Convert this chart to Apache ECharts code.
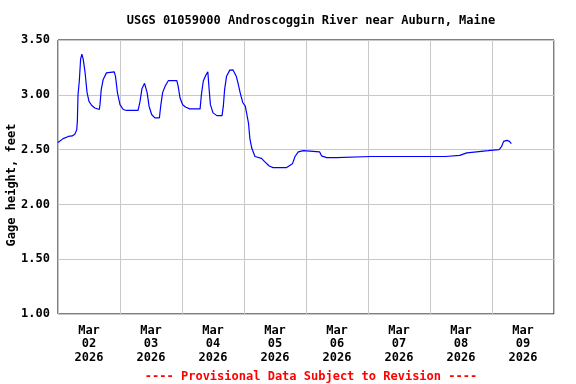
<!DOCTYPE html>
<html><head><meta charset="utf-8">
<script src="https://cdn.jsdelivr.net/npm/echarts@6/dist/echarts.min.js"></script>
<style>html,body{margin:0;padding:0;background:#fff}#c{width:576px;height:384px}</style>
</head><body><div id="c"></div>
<script>
const chartTitle = 'USGS 01059000 Androscoggin River near Auburn, Maine';
const footnote = '---- Provisional Data Subject to Revision ----';
const yAxisName = 'Gage height, feet';
const dayLabels = ['Mar\n02\n2026','Mar\n03\n2026','Mar\n04\n2026','Mar\n05\n2026','Mar\n06\n2026','Mar\n07\n2026','Mar\n08\n2026','Mar\n09\n2026'];
const xStart = '2026-03-02 00:00';
const xEnd = '2026-03-10 00:00';
const yTicks = [1.00, 1.50, 2.00, 2.50, 3.00, 3.50];
const times = [
 '2026-03-02 00:00','2026-03-02 00:45','2026-03-02 02:00','2026-03-02 04:00','2026-03-02 05:30','2026-03-02 06:30',
 '2026-03-02 07:15','2026-03-02 07:30','2026-03-02 07:45','2026-03-02 08:15','2026-03-02 08:45','2026-03-02 09:15',
 '2026-03-02 09:45','2026-03-02 10:30','2026-03-02 10:45','2026-03-02 11:15','2026-03-02 12:00','2026-03-02 13:00',
 '2026-03-02 14:15','2026-03-02 16:00','2026-03-02 16:15','2026-03-02 16:45','2026-03-02 17:30','2026-03-02 18:45',
 '2026-03-02 21:45','2026-03-02 22:15','2026-03-02 23:00','2026-03-03 00:00','2026-03-03 01:15','2026-03-03 02:30',
 '2026-03-03 07:00','2026-03-03 07:45','2026-03-03 08:30','2026-03-03 09:30','2026-03-03 10:00','2026-03-03 10:30',
 '2026-03-03 11:15','2026-03-03 12:15','2026-03-03 13:30','2026-03-03 15:15','2026-03-03 15:45','2026-03-03 16:30',
 '2026-03-03 17:30','2026-03-03 18:45','2026-03-03 22:00','2026-03-03 22:30','2026-03-03 23:15','2026-03-04 00:15',
 '2026-03-04 01:30','2026-03-04 03:00','2026-03-04 07:00','2026-03-04 07:30','2026-03-04 08:15','2026-03-04 09:15',
 '2026-03-04 10:00','2026-03-04 10:30','2026-03-04 11:00','2026-03-04 12:00','2026-03-04 13:30','2026-03-04 15:30',
 '2026-03-04 16:00','2026-03-04 16:30','2026-03-04 17:15','2026-03-04 18:30','2026-03-04 19:45','2026-03-04 21:00',
 '2026-03-04 21:45','2026-03-04 22:30','2026-03-04 23:30','2026-03-05 00:30','2026-03-05 01:00','2026-03-05 01:45',
 '2026-03-05 02:15','2026-03-05 03:00','2026-03-05 04:15','2026-03-05 06:45','2026-03-05 08:00','2026-03-05 09:45',
 '2026-03-05 11:15','2026-03-05 16:30','2026-03-05 17:00','2026-03-05 18:45','2026-03-05 19:45','2026-03-05 21:00',
 '2026-03-05 23:00','2026-03-06 05:15','2026-03-06 06:00','2026-03-06 08:00','2026-03-06 11:45','2026-03-06 12:30',
 '2026-03-07 01:00','2026-03-07 01:15','2026-03-07 01:30','2026-03-07 08:00','2026-03-07 08:15','2026-03-07 08:30',
 '2026-03-07 12:30','2026-03-07 15:00','2026-03-07 15:15','2026-03-07 15:30','2026-03-07 18:00','2026-03-07 18:15',
 '2026-03-07 18:30','2026-03-08 00:00','2026-03-08 00:15','2026-03-08 00:30','2026-03-08 06:00','2026-03-08 06:15',
 '2026-03-08 06:30','2026-03-08 11:30','2026-03-08 14:15','2026-03-08 18:00','2026-03-08 22:30','2026-03-09 02:45',
 '2026-03-09 03:45','2026-03-09 04:30','2026-03-09 05:45','2026-03-09 06:45','2026-03-09 07:30'
];
const gageHeight = [
 2.565,2.58,2.60,2.62,2.625,2.64,
 2.68,2.76,3.00,3.126,3.325,3.37,
 3.325,3.20,3.14,3.02,2.94,2.905,
 2.88,2.866,2.91,3.05,3.14,3.20,
 3.21,3.17,3.02,2.91,2.866,2.857,
 2.857,2.94,3.056,3.105,3.12,3.02,
 2.896,2.82,2.79,2.79,2.896,3.02,
 3.08,3.13,3.13,3.08,2.97,2.91,
 2.887,2.872,2.872,3.00,3.126,3.18,
 3.21,3.05,2.91,2.835,2.81,2.81,
 2.896,3.05,3.17,3.225,3.227,3.17,
 3.10,3.02,2.93,2.896,2.835,2.74,
 2.605,2.514,2.437,2.42,2.39,2.35,
 2.336,2.336,2.354,2.37,2.437,2.48,
 2.49,2.48,2.443,2.427,2.427,2.437,
 2.437,2.445,2.437,2.437,2.43,2.437,
 2.437,2.437,2.445,2.437,2.437,2.445,
 2.437,2.437,2.445,2.437,2.437,2.445,
 2.437,2.447,2.47,2.48,2.49,2.50,
 2.53,2.575,2.584,2.575,2.554
];
function toMs(s){const [d,t]=s.split(' ');const [Y,M,D]=d.split('-').map(Number);const [h,m]=t.split(':').map(Number);return Date.UTC(Y,M-1,D,h,m);}
const DAY = 86400000;
const seriesData = times.map((t,i)=>[toMs(t), gageHeight[i]]);
const font = '"DejaVu Sans Mono", monospace';
const chart = echarts.init(document.getElementById('c'), null, {renderer:'canvas'});
chart.setOption({
  animation:false,
  backgroundColor:'#ffffff',
  title:[
    {text:chartTitle, left:306, top:10, textAlign:'center', textStyle:{fontFamily:font, fontWeight:'bold', fontSize:12, color:'#000'}},
    {text:footnote, left:306, top:366, textAlign:'center', textStyle:{fontFamily:font, fontWeight:'bold', fontSize:12, color:'#ff0000'}}
  ],
  graphic:[{type:'text', x:12, y:185, rotation:Math.PI/2,
    style:{text:yAxisName, align:'center', verticalAlign:'middle', fill:'#000',
      font:'bold 12px "DejaVu Sans Mono", monospace'}}],
  grid:{left:58, right:22, top:40, bottom:70, containLabel:false, outerBoundsMode:'none', show:true, borderColor:'#000', borderWidth:1, backgroundColor:'transparent'},
  xAxis:[
    {type:'value', min:toMs(xStart), max:toMs(xEnd), interval:DAY,
     axisLabel:{show:false}, axisTick:{show:false}, axisLine:{show:false},
     splitLine:{show:true, lineStyle:{color:'#c8c8c8', width:1}}},
    {type:'category', data:dayLabels, boundaryGap:true, position:'bottom',
     axisLine:{show:false}, axisTick:{show:false}, splitLine:{show:false},
     axisLabel:{show:true, interval:0, margin:10, lineHeight:13.5, fontFamily:font, fontWeight:'bold', fontSize:12, color:'#000'}}
  ],
  yAxis:{type:'value', min:yTicks[0], max:yTicks[yTicks.length-1], interval:0.5,
    axisLine:{show:false}, axisTick:{show:false},
    axisLabel:{formatter:v=>v.toFixed(2), margin:8, fontFamily:font, fontWeight:'bold', fontSize:12, color:'#000'},
    splitLine:{show:true, lineStyle:{color:'#c8c8c8', width:1}}},
  series:[{type:'line', xAxisIndex:0, data:seriesData, showSymbol:false, symbol:'none',
    lineStyle:{color:'#0000ff', width:1.2}, itemStyle:{color:'#0000ff'}}]
});
</script></body></html>
